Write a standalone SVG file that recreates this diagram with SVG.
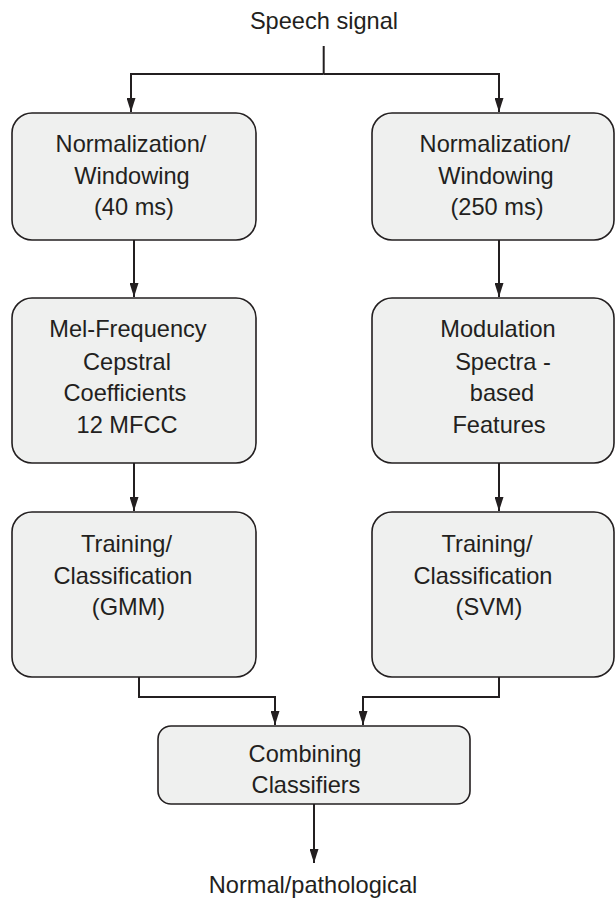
<svg xmlns="http://www.w3.org/2000/svg" width="615" height="899" viewBox="0 0 615 899">
<style>
.box{fill:#eff0ef;stroke:#231f20;stroke-width:1.6}
.lbl{font-family:"Liberation Sans",Arial,sans-serif;font-size:23.6px;fill:#231f20;text-anchor:middle}
.con{fill:none;stroke:#231f20;stroke-width:2}
</style>
<defs>
<marker id="ah" viewBox="0 0 14 9" refX="14" refY="4.5" markerWidth="14" markerHeight="9" markerUnits="userSpaceOnUse" orient="auto">
<path d="M0,0 L14,4.5 L0,9 z" fill="#231f20"/>
</marker>
</defs>
<g id="speech-signal"><text class="lbl" x="324" y="29">Speech signal</text></g>
<g id="norm40">
<rect class="box" x="12" y="113" width="244" height="127" rx="20" ry="20"/>
<text class="lbl" x="131" y="152">Normalization/</text>
<text class="lbl" x="132" y="183.5">Windowing</text>
<text class="lbl" x="134" y="215">(40 ms)</text>
</g>
<g id="norm250">
<rect class="box" x="372" y="113" width="242" height="127" rx="20" ry="20"/>
<text class="lbl" x="495" y="152">Normalization/</text>
<text class="lbl" x="496" y="183.5">Windowing</text>
<text class="lbl" x="497" y="215">(250 ms)</text>
</g>
<g id="mfcc">
<rect class="box" x="12" y="298" width="244" height="165" rx="20" ry="20"/>
<text class="lbl" x="128" y="337">Mel-Frequency</text>
<text class="lbl" x="127" y="369.5">Cepstral</text>
<text class="lbl" x="125" y="401">Coefficients</text>
<text class="lbl" x="127" y="433">12 MFCC</text>
</g>
<g id="modspec">
<rect class="box" x="372" y="298" width="242" height="165" rx="20" ry="20"/>
<text class="lbl" x="498" y="337">Modulation</text>
<text class="lbl" x="503" y="369.5">Spectra -</text>
<text class="lbl" x="502" y="401">based</text>
<text class="lbl" x="499" y="433">Features</text>
</g>
<g id="gmm">
<rect class="box" x="12" y="512" width="244" height="165" rx="20" ry="20"/>
<text class="lbl" x="126.5" y="552">Training/</text>
<text class="lbl" x="123" y="583.5">Classification</text>
<text class="lbl" x="128.5" y="615">(GMM)</text>
</g>
<g id="svm">
<rect class="box" x="372" y="512" width="242" height="165" rx="20" ry="20"/>
<text class="lbl" x="487" y="552">Training/</text>
<text class="lbl" x="483" y="583.5">Classification</text>
<text class="lbl" x="489" y="615">(SVM)</text>
</g>
<g id="combine">
<rect class="box" x="158" y="726" width="312" height="78" rx="13" ry="13"/>
<text class="lbl" x="305" y="762">Combining</text>
<text class="lbl" x="306" y="793">Classifiers</text>
</g>
<g id="output"><text class="lbl" x="313" y="893">Normal/pathological</text></g>
<g id="connectors">
<path class="con" d="M323.7,46 V74"/>
<path class="con" d="M323.7,74 H131 V112" marker-end="url(#ah)"/>
<path class="con" d="M323.7,74 H499 V112" marker-end="url(#ah)"/>
<path class="con" d="M134,240 V297" marker-end="url(#ah)"/>
<path class="con" d="M499,240 V297" marker-end="url(#ah)"/>
<path class="con" d="M134,463 V511" marker-end="url(#ah)"/>
<path class="con" d="M499,463 V511" marker-end="url(#ah)"/>
<path class="con" d="M139,677 V697 H275 V725" marker-end="url(#ah)"/>
<path class="con" d="M499,677 V697 H363 V725" marker-end="url(#ah)"/>
<path class="con" d="M314,804 V863" marker-end="url(#ah)"/>
</g>
</svg>
